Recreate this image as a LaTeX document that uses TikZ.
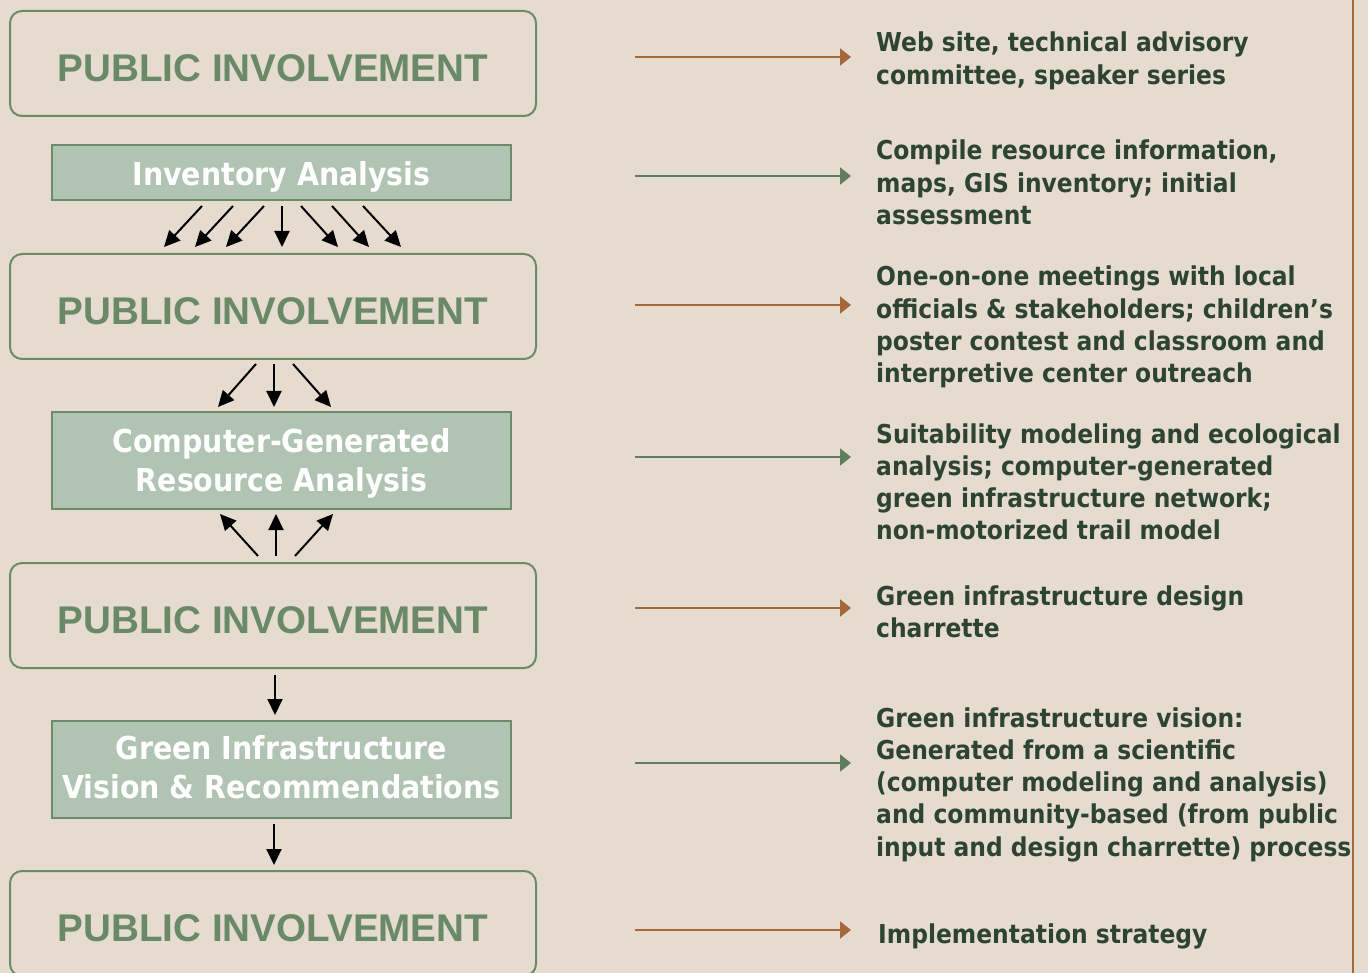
\documentclass[tikz,border=0pt]{standalone}
\usepackage{fontspec}
\setmainfont{DejaVu Sans}
\newfontfamily\pifont{Liberation Sans}
\newfontfamily\rtfont[FakeStretch=0.9]{DejaVu Sans}
\usetikzlibrary{arrows.meta,calc}
\definecolor{bgc}{HTML}{E6DBCF}
\definecolor{boxgreen}{HTML}{6B8B69}
\definecolor{pigreen}{HTML}{6A8A67}
\definecolor{afill}{HTML}{B1C3B2}
\definecolor{rtext}{HTML}{2E4433}
\definecolor{brownc}{HTML}{A5683A}
\definecolor{garrow}{HTML}{5F7D5F}
\newcommand{\lowered}[2]{\raisebox{-#1}[\height][\depth]{#2}}
\begin{document}
\begin{tikzpicture}[x=1pt,y=-1pt,
  pibox/.style={draw=boxgreen, line width=2pt, rounded corners=12pt,
    minimum width=526pt, minimum height=105pt, inner sep=0pt, text=pigreen,
    font=\pifont\bfseries\fontsize{38.6}{40}\selectfont},
  abox/.style={draw=boxgreen, line width=2pt, fill=afill, minimum width=459pt,
    inner sep=0pt, text=white,
    font=\rtfont\bfseries\fontsize{31.6}{39}\selectfont},
  rtxt/.style={anchor=base west, inner sep=0pt, text=rtext,
    font=\rtfont\bfseries\fontsize{26}{32.3}\selectfont},
  fan/.style={line width=2pt, -{Triangle[length=16pt,width=15pt]}},
  barrow/.style={draw=brownc, line width=2pt, -{Triangle[length=11pt,width=17pt]}, shorten >=25pt},
  garr/.style={draw=garrow, line width=2pt, -{Triangle[length=11pt,width=17pt]}, shorten >=25pt}
]
\fill[bgc] (0,0) rectangle (1368,973);
\useasboundingbox (0,0) rectangle (1368,973);
\draw[brownc, line width=2pt] (1353,0) -- (1353,973);

% left column
\node[pibox] (pi1) at (273,63.5) {\lowered{5pt}{PUBLIC INVOLVEMENT}};
\node[abox, minimum height=55pt] (inv) at (281.5,172.5) {\lowered{4pt}{Inventory Analysis}};
\node[pibox] (pi2) at (273,306.5) {\lowered{5pt}{PUBLIC INVOLVEMENT}};
\node[abox, minimum height=97pt] (comp) at (281.5,460.5) {\lowered{4pt}{\begin{tabular}{@{}c@{}}Computer-Generated\\Resource Analysis\end{tabular}}};
\node[pibox] (pi3) at (273,615.5) {\lowered{5pt}{PUBLIC INVOLVEMENT}};
\node[abox, minimum height=97pt] (gi) at (281.5,769.5) {\lowered{2pt}{\begin{tabular}{@{}c@{}}Green Infrastructure\\Vision \& Recommendations\end{tabular}}};
\node[pibox] (pi4) at (273,923.5) {\lowered{5pt}{PUBLIC INVOLVEMENT}};

% fan arrows
\foreach \a/\b in {-79.5/-109, -48.5/-78, -17.5/-47, 0.5/9, 19.5/65, 50.5/96, 81.5/128}
  \draw[fan] ($(inv.south)+(\a,5)$) -- ($(pi2.north)+(\b,-6)$);
\foreach \a/\b in {-17/-63.5, 1/-7.5, 20/49.5}
  \draw[fan] ($(pi2.south)+(\a,4)$) -- ($(comp.north)+(\b,-4)$);
\foreach \a/\b in {-15/-61.5, 3/-5.5, 22/51.5}
  \draw[fan] ($(pi3.north)+(\a,-6)$) -- ($(comp.south)+(\b,4)$);
\draw[fan] ($(pi3.south)+(2,6)$) -- ($(gi.north)+(-6.5,-5)$);
\draw[fan] ($(gi.south)+(-7.5,5)$) -- ($(pi4.north)+(1,-5)$);

% right texts
\node[rtxt] (t1) at (876,52) {\parbox[t]{480pt}{\raggedright Web site, technical advisory\\committee, speaker series}};
\node[rtxt] (t2) at (876,160) {\parbox[t]{480pt}{\raggedright Compile resource information,\\maps, GIS inventory; initial\\assessment}};
\node[rtxt] (t3) at (876,286) {\parbox[t]{480pt}{\raggedright One-on-one meetings with local\\officials \& stakeholders; children’s\\poster contest and classroom and\\interpretive center outreach}};
\node[rtxt] (t4) at (876,443) {\parbox[t]{480pt}{\raggedright Suitability modeling and ecological\\analysis; computer-generated\\green infrastructure network;\\non-motorized trail model}};
\node[rtxt] (t5) at (876,605) {\parbox[t]{480pt}{\raggedright Green infrastructure design\\charrette}};
\node[rtxt] (t6) at (876,727) {\parbox[t]{480pt}{\raggedright Green infrastructure vision:\\Generated from a scientific\\(computer modeling and analysis)\\and community-based (from public\\input and design charrette) process}};
\node[rtxt] (t7) at (878,943) {\parbox[t]{480pt}{\raggedright Implementation strategy}};

% right arrows
\draw[barrow] ($(pi1.east)+(98,-6.5)$) coordinate (a1) -- (a1 -| t1.west);
\draw[garr]   ($(inv.east)+(122.5,3.5)$) coordinate (a2) -- (a2 -| t2.west);
\draw[barrow] ($(pi2.east)+(98,-1.5)$) coordinate (a3) -- (a3 -| t3.west);
\draw[garr]   ($(comp.east)+(122.5,-3.5)$) coordinate (a4) -- (a4 -| t4.west);
\draw[barrow] ($(pi3.east)+(98,-7.5)$) coordinate (a5) -- (a5 -| t5.west);
\draw[garr]   ($(gi.east)+(122.5,-6.5)$) coordinate (a6) -- (a6 -| t6.west);
\draw[barrow, shorten >=27pt] ($(pi4.east)+(98,6.5)$) coordinate (a7) -- (a7 -| t7.west);
\end{tikzpicture}
\end{document}
